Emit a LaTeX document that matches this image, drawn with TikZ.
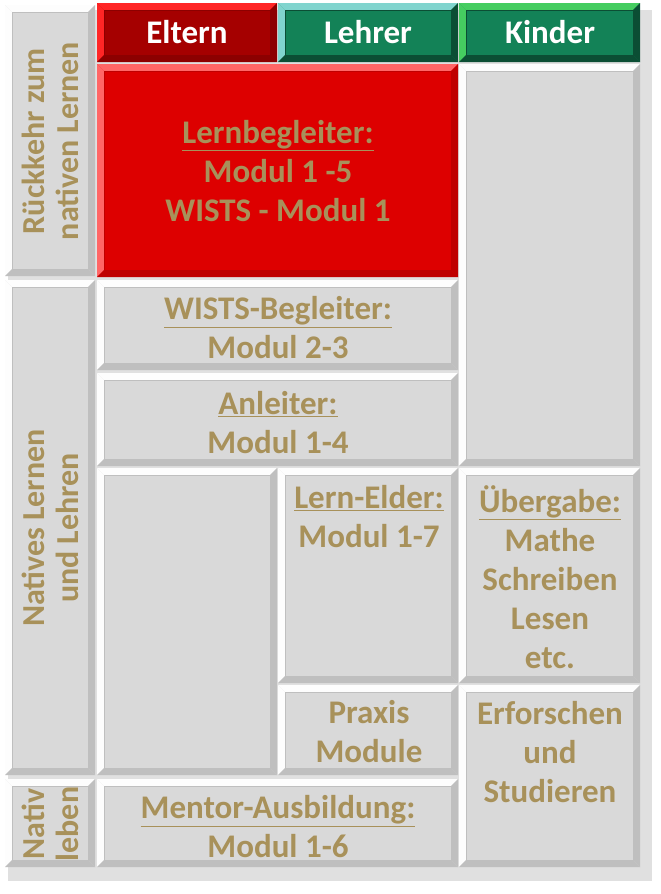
\documentclass[tikz,border=0pt]{standalone}
\usepackage{fontspec}
\setmainfont{Carlito}
\usetikzlibrary{calc}
\definecolor{gold}{HTML}{A8915A}
\definecolor{face}{HTML}{D9D9D9}
\definecolor{redf}{HTML}{DD0000}
\definecolor{darkred}{HTML}{A50000}
\definecolor{grn}{HTML}{138257}
\tikzset{
  lbl/.style={font=\bfseries\fontsize{33}{39}\selectfont, text=gold, align=center},
  vlbl/.style={font=\bfseries\fontsize{32}{34}\selectfont, text=gold, align=center, rotate=90},
  hdr/.style={font=\bfseries\fontsize{33}{34}\selectfont, text=white},
}
% \bev{x1}{y1}{x2}{y2}{face}{light}{dark}
\newcommand{\bev}[7]{%
  \fill[#5] (#1,#2) rectangle (#3,#4);
  \fill[#6] (#1,#2) -- (#3,#2) -- (#3-7,#2+7) -- (#1+7,#2+7) -- cycle;
  \fill[#6] (#1,#2) -- (#1+7,#2+7) -- (#1+7,#4-7) -- (#1,#4) -- cycle;
  \fill[#7] (#1,#4) -- (#1+7,#4-7) -- (#3-7,#4-7) -- (#3,#4) -- cycle;
  \fill[#7] (#3,#2) -- (#3,#4) -- (#3-7,#4-7) -- (#3-7,#2+7) -- cycle;
  \draw[#7, line width=0.6] (#1+7,#2+7) rectangle (#3-7,#4-7);
}
\begin{document}
\begin{tikzpicture}[x=1pt,y=-1pt]
\useasboundingbox (0,0) rectangle (661,894);
\fill[white] (0,0) rectangle (661,894);
% shadow
\fill[black!22] (10,12) rectangle (649,877);
\fill[black!12] (8,10) rectangle (652,881);
% left column
\bev{5}{5}{95}{276}{face}{white!95!face}{black!25}
\bev{5}{280}{95}{775}{face}{white!95!face}{black!25}
\bev{5}{779}{95}{867}{face}{white!95!face}{black!25}
% headers
\bev{97}{3}{277}{62}{darkred}{red!85!white}{black!45!red}
\bev{278}{3}{458}{62}{grn}{cyan!60!green!50!white}{black!40!grn}
\bev{459}{3}{640}{62}{grn}{green!60!white!60!grn}{black!40!grn}
% boxes
\bev{97}{64}{458}{277}{redf}{red!60!white}{black!25!red}
\bev{459}{64}{640}{466}{face}{white!95!face}{black!25}
\bev{97}{280}{458}{370}{face}{white!95!face}{black!25}
\bev{97}{373}{458}{466}{face}{white!95!face}{black!25}
\bev{97}{468}{277}{775}{face}{white!95!face}{black!25}
\bev{278}{468}{458}{683}{face}{white!95!face}{black!25}
\bev{459}{468}{640}{683}{face}{white!95!face}{black!25}
\bev{278}{685}{458}{775}{face}{white!95!face}{black!25}
\bev{459}{685}{640}{867}{face}{white!95!face}{black!25}
\bev{97}{779}{458}{867}{face}{white!95!face}{black!25}
% texts
\node[hdr] (eltern) at (187,32) {Eltern};
\node[hdr] (lehrer) at (368,32) {Lehrer};
\node[hdr] (kinder) at (550,32) {Kinder};
\node[vlbl] (rueck) at (50,141) {Rückkehr zum\\nativen Lernen};
\node[vlbl] (natl) at (50,528) {Natives Lernen\\und Lehren};
\node[vlbl] (nativ) at (50,824) {Nativ\\leben};
\node[lbl] (lb) at (278,171) {\underline{Lernbegleiter:}\\Modul 1 -5\\WISTS - Modul 1};
\node[lbl] (wb) at (278,328) {\underline{WISTS-Begleiter:}\\Modul 2-3};
\node[lbl] (an) at (278,423) {\underline{Anleiter:}\\Modul 1-4};
\node[lbl] (le) at (369,517) {\underline{Lern-Elder:}\\Modul 1-7};
\node[lbl] (ue) at (550,577) {\underline{Übergabe:}\\Mathe\\Schreiben\\Lesen\\etc.};
\node[lbl] (px) at (369,732) {Praxis\\Module};
\node[lbl] (ef) at (550,752) {Erforschen\\und\\Studieren};
\node[lbl] (me) at (278,827) {\underline{Mentor-Ausbildung:}\\Modul 1-6};
\end{tikzpicture}
\end{document}
